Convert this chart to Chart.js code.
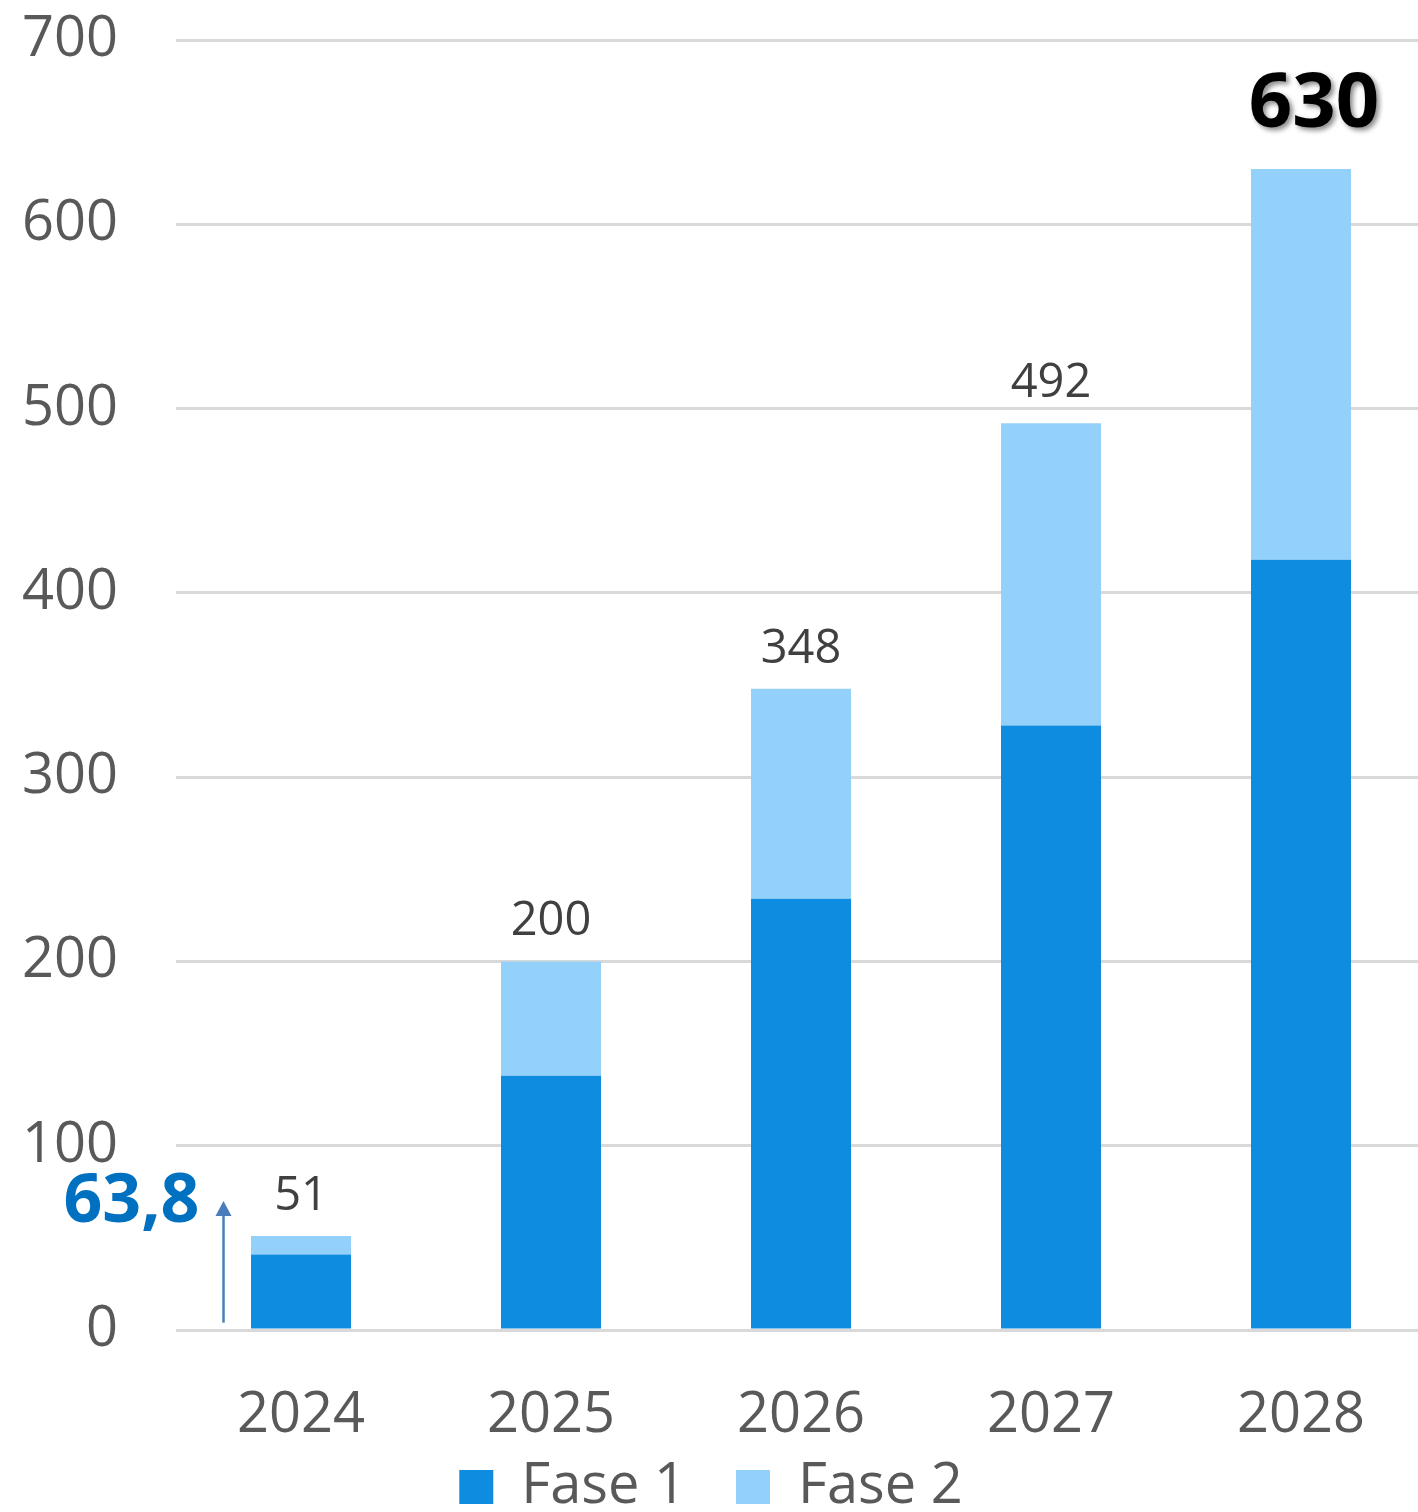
<!DOCTYPE html>
<html>
<head>
<meta charset="utf-8">
<script src="https://cdn.jsdelivr.net/npm/chart.js@4.4.0/dist/chart.umd.min.js"></script>
<style>
  html, body { margin: 0; padding: 0; background: #fff; overflow: hidden; }
  #wrap { width: 1426px; height: 1512px; }
</style>
</head>
<body>
<div id="wrap"><canvas id="chart"></canvas></div>
<script>
// data
const years = ['2024', '2025', '2026', '2027', '2028'];
const fase1 = [41, 138, 234, 328, 418];
const fase2 = [10, 62, 114, 164, 212];
const totals = [51, 200, 348, 492, 630];
const yTicks = [0, 100, 200, 300, 400, 500, 600, 700];
const noteText = '63,8';

const FONT = '"Open Sans", sans-serif';
const GREY = '#595959';

// totals above each stack + the 63,8 note with its arrow
const labelsPlugin = {
    id: 'labels',
    afterLayout(chart) {
        // legend sits a bit higher than its layout box
        if (chart.legend) {
            chart.legend.top -= 41;
            chart.legend.bottom -= 41;
            chart.legend.left -= 2;
            chart.legend.right -= 2;
        }
    },
    afterDatasetsDraw(chart) {
        const ctx = chart.ctx;
        const x = chart.scales.x, y = chart.scales.y;
        ctx.save();
        ctx.textAlign = 'center';
        ctx.textBaseline = 'bottom';
        totals.forEach((t, i) => {
            const px = x.getPixelForValue(i);
            const py = y.getPixelForValue(t);
            if (i === totals.length - 1) {
                ctx.save();
                ctx.font = 'bold 76px ' + FONT;
                ctx.fillStyle = '#000';
                ctx.shadowColor = 'rgba(0,0,0,0.45)';
                ctx.shadowBlur = 5;
                ctx.shadowOffsetX = 3;
                ctx.shadowOffsetY = 3;
                ctx.fillText(String(t), px + 13, py - 26);
                ctx.restore();
            } else {
                ctx.font = '47px ' + FONT;
                ctx.fillStyle = '#404040';
                ctx.fillText(String(t), px, py - 16);
            }
        });

        // arrow left of the first bar
        const step = x.getPixelForValue(1) - x.getPixelForValue(0);
        const ax = x.getPixelForValue(0) - step * 0.31;
        const y0 = y.getPixelForValue(4);
        const y1 = y.getPixelForValue(70);
        ctx.strokeStyle = '#4A7EBB';
        ctx.fillStyle = '#4A7EBB';
        ctx.lineWidth = 2.5;
        ctx.beginPath();
        ctx.moveTo(ax, y0);
        ctx.lineTo(ax, y1 + 12);
        ctx.stroke();
        ctx.beginPath();
        ctx.moveTo(ax, y1);
        ctx.lineTo(ax - 8, y1 + 15);
        ctx.lineTo(ax + 8, y1 + 15);
        ctx.closePath();
        ctx.fill();

        ctx.font = 'bold 68px ' + FONT;
        ctx.fillStyle = '#0070C0';
        ctx.textAlign = 'right';
        ctx.textBaseline = 'middle';
        ctx.fillText(noteText, ax - 24, y.getPixelForValue(69));
        ctx.restore();
    }
};

new Chart(document.getElementById('chart'), {
    type: 'bar',
    data: {
        labels: years,
        datasets: [{
            label: 'Fase 1',
            data: fase1,
            backgroundColor: '#0E8CE0',
            barPercentage: 0.4,
            categoryPercentage: 1
        }, {
            label: 'Fase 2',
            data: fase2,
            backgroundColor: '#94D1FA',
            barPercentage: 0.4,
            categoryPercentage: 1
        }]
    },
    options: {
        responsive: true,
        maintainAspectRatio: false,
        animation: false,
        layout: {
            padding: { top: 40, left: 0, right: 0, bottom: -54 }
        },
        scales: {
            x: {
                stacked: true,
                grid: { display: false },
                border: { display: false },
                afterFit(axis) {
                    axis.height = 120;
                },
                ticks: {
                    color: GREY,
                    font: { family: FONT, size: 56 },
                    padding: 44
                }
            },
            y: {
                stacked: true,
                min: 0,
                max: 700,
                afterBuildTicks(axis) {
                    axis.ticks = yTicks.map(v => ({ value: v }));
                },
                afterFit(axis) {
                    axis.width = 176;
                    axis.paddingTop = 0;
                    axis.paddingBottom = 0;
                },
                grid: {
                    color: '#D9D9D9',
                    lineWidth: 3,
                    drawTicks: false
                },
                border: { display: false },
                ticks: {
                    color: GREY,
                    font: { family: FONT, size: 56 },
                    padding: 58
                }
            }
        },
        plugins: {
            legend: {
                position: 'bottom',
                labels: {
                    color: GREY,
                    font: { family: FONT, size: 56 },
                    boxWidth: 34,
                    boxHeight: 34,
                    padding: 50
                }
            },
            tooltip: { enabled: false }
        }
    },
    plugins: [labelsPlugin]
});
</script>
</body>
</html>
